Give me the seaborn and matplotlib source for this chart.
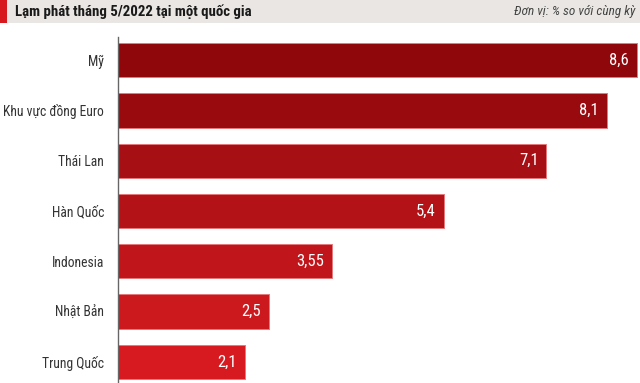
import matplotlib
matplotlib.use('Agg')
import matplotlib.pyplot as plt
from matplotlib.patches import Rectangle
from matplotlib import transforms
import seaborn as sns
import pandas as pd

countries = ['Mỹ', 'Khu vực đồng Euro', 'Thái Lan', 'Hàn Quốc',
             'Indonesia', 'Nhật Bản', 'Trung Quốc']
values = [8.6, 8.1, 7.1, 5.4, 3.55, 2.5, 2.1]
value_labels = ['8,6', '8,1', '7,1', '5,4', '3,55', '2,5', '2,1']
bar_colors = ['#8f070a', '#990a0e', '#a60f13', '#b31317',
              '#c0161b', '#cc191e', '#d71a20']

title = 'Lạm phát tháng 5/2022 tại một quốc gia'
unit = 'Đơn vị: % so với cùng kỳ'

df = pd.DataFrame({'country': countries, 'value': values})

sns.set_style('white')
plt.rcParams['font.family'] = ['Roboto Condensed', 'Roboto', 'DejaVu Sans']

W, H = 640, 383
fig = plt.figure(figsize=(W / 100, H / 100), dpi=100)

# title band
fig.patches.append(Rectangle((0, 1 - 23 / H), 1, 23 / H, transform=fig.transFigure,
                             facecolor='#e9e6e3', edgecolor='none', zorder=0))
fig.patches.append(Rectangle((0, 1 - 23 / H), 7 / W, 23 / H, transform=fig.transFigure,
                             facecolor='#d7191e', edgecolor='none', zorder=1))
fig.text(15 / W, 1 - 12 / H, title, fontsize=10.7, fontweight='bold',
         color='#1a1a1a', va='center', ha='left')
fig.text(635 / W, 1 - 12 / H, unit, fontsize=9.5, style='italic',
         color='#444444', va='center', ha='right')

ax = fig.add_axes([118 / W, 0, 1 - 118 / W, 1 - 37 / H])
sns.barplot(data=df, y='country', x='value', hue='country', palette=bar_colors,
            saturation=1, legend=False, orient='h', width=0.68,
            edgecolor='#e6787a', linewidth=0.7, ax=ax)

ax.set_xlim(0, (W - 118) / 60.35)
ax.set_ylim(6.42, -0.46)
ax.set_xlabel('')
ax.set_ylabel('')
ax.set_xticks([])
for s in ['top', 'right', 'bottom']:
    ax.spines[s].set_visible(False)
ax.spines['left'].set_color('#666666')
ax.spines['left'].set_linewidth(1)
ax.tick_params(axis='y', length=0, pad=10, labelsize=9.8, labelcolor='#333333')

offset = transforms.offset_copy(ax.transData, fig=fig, x=-8, y=0, units='dots')
for i, (v, lab) in enumerate(zip(values, value_labels)):
    ax.text(v, i, lab, transform=offset, ha='right', va='center',
            color='white', fontsize=12)

plt.savefig('out.png', dpi=100)
